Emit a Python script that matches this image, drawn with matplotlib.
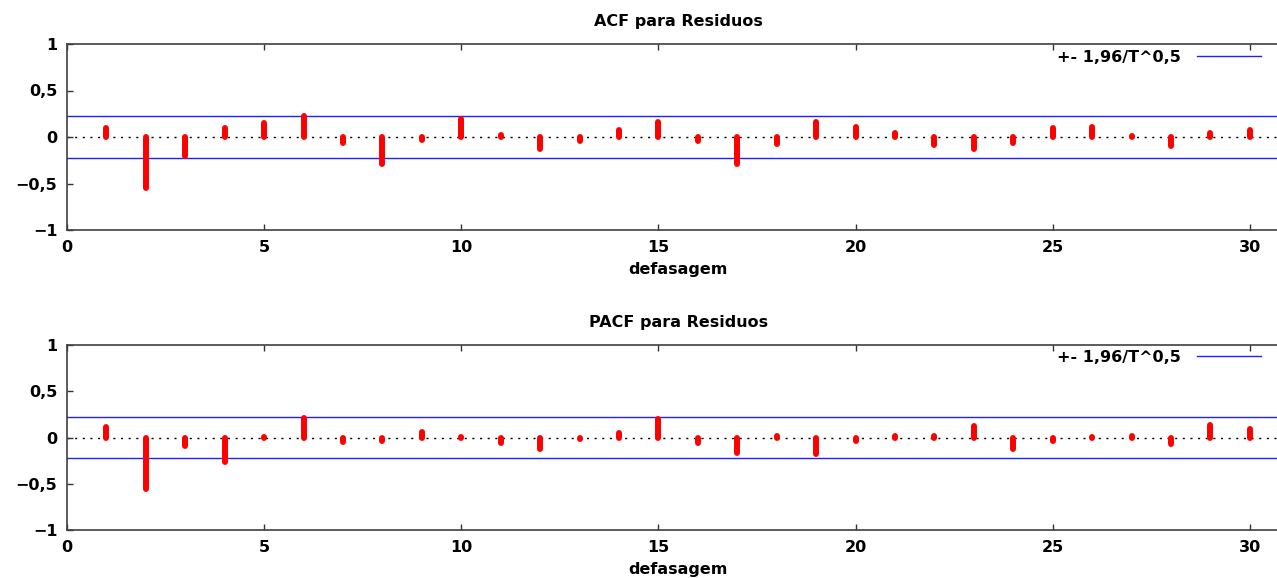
import numpy as np
import matplotlib
matplotlib.use('Agg')
import matplotlib.pyplot as plt

lags = np.arange(1, 31)

acf = [0.10, -0.55, -0.20, 0.10, 0.15, 0.23, -0.06, -0.29, -0.03, 0.19,
       0.02, -0.13, -0.04, 0.07, 0.16, -0.04, -0.29, -0.08, 0.16, 0.11,
       0.04, -0.09, -0.13, -0.06, 0.10, 0.11, 0.01, -0.10, 0.04, 0.08]

pacf = [0.11, -0.56, -0.09, -0.26, 0.01, 0.21, -0.05, -0.04, 0.06, 0.01,
        -0.06, -0.12, -0.02, 0.05, 0.20, -0.06, -0.17, 0.02, -0.18, -0.04,
        0.02, 0.02, 0.12, -0.12, -0.04, 0.01, 0.02, -0.07, 0.14, 0.09]

# banda de confianca +- 1,96/T^0,5
T = 75
band = 1.96 / np.sqrt(T)

yticks = [-1, -0.5, 0, 0.5, 1]
ytick_labels = ['\u22121', '\u22120,5', '0', '0,5', '1']
xticks = [0, 5, 10, 15, 20, 25, 30]

plt.rcParams['font.family'] = ['DejaVu Sans']
plt.rcParams['font.weight'] = 'bold'
fs = 11.5

fig = plt.figure(figsize=(12.77, 5.78), dpi=100)

W, H = 1277.0, 578.0
left = 67 / W
width = 31 * 39.43 / W

def draw(ax, vals, title):
    ax.axhline(0, color='black', linestyle=(0, (1.5, 4)), linewidth=1.0, zorder=1)
    ax.axhline(band, color='#2020ff', linewidth=1.0, zorder=2,
               label='+- 1,96/T^0,5')
    ax.axhline(-band, color='#2020ff', linewidth=1.0, zorder=2)
    lc = ax.vlines(lags, 0, vals, color='#ff0000', linewidth=4.3, zorder=3)
    lc.set_capstyle('round')
    ax.set_xlim(0, 31)
    ax.set_ylim(-1, 1)
    ax.set_xticks(xticks)
    ax.set_yticks(yticks)
    ax.set_yticklabels(ytick_labels)
    ax.tick_params(direction='in', length=4, width=1, top=True, right=True,
                   colors='#333333', labelcolor='black', pad=7, labelsize=fs)
    for s in ax.spines.values():
        s.set_color('#404040')
        s.set_linewidth(1.2)
    ax.set_title(title, fontsize=fs, fontweight='bold', pad=13)
    ax.set_xlabel('defasagem', fontsize=fs, fontweight='bold', labelpad=5)
    leg = ax.legend(loc='center right', frameon=False, markerfirst=False,
                    handlelength=4.0, handletextpad=1.0, fontsize=fs,
                    bbox_to_anchor=(1275 / W, 0), bbox_transform=fig.transFigure)
    return leg

ax1 = fig.add_axes([left, 1 - 230 / H, width, 186 / H])
leg = draw(ax1, acf, 'ACF para Residuos')
leg.set_bbox_to_anchor((1275 / W, 1 - 57 / H), transform=fig.transFigure)

ax2 = fig.add_axes([left, 1 - 530 / H, width, 185 / H])
leg = draw(ax2, pacf, 'PACF para Residuos')
leg.set_bbox_to_anchor((1275 / W, 1 - 357 / H), transform=fig.transFigure)

fig.savefig('out.png', dpi=100)
